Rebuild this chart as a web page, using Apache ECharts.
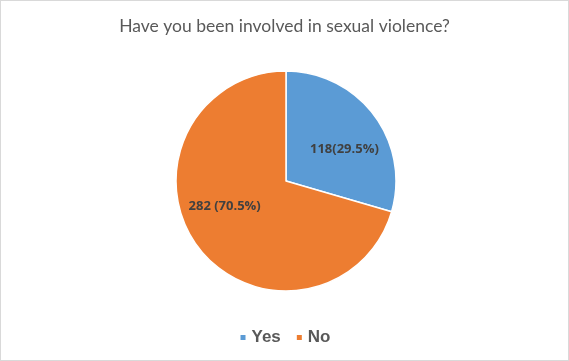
<!DOCTYPE html>
<html><head><meta charset="utf-8">
<script src="https://cdn.jsdelivr.net/npm/echarts@6/dist/echarts.min.js"></script>
<style>
html,body{margin:0;padding:0;background:#fff;}
#c{position:absolute;left:0;top:0;width:567px;height:359px;border:1px solid #d9d9d9;}
</style></head>
<body><div id="c"></div>
<script>
const titleText = 'Have you been involved in sexual violence?';
const categories = ['Yes', 'No'];
const values = [118, 282];
const colors = ['#5B9BD5', '#ED7D31'];
const labelFormats = ['{c}({d}%)', '{c} ({d}%)'];
const labelOffsets = [[12, 3], [-15, -10]];

const chart = echarts.init(document.getElementById('c'));
chart.setOption({
  animation: false,
  title: {
    text: titleText, left: 'center', top: 11,
    textStyle: {fontFamily: 'Lato', fontSize: 17.5, fontWeight: 'normal', color: '#595959'}
  },
  legend: {
    bottom: 9, left: 'center', itemWidth: 7, itemHeight: 7, itemGap: 14, icon: 'rect',
    data: categories,
    textStyle: {fontFamily: 'Liberation Sans', fontSize: 17, fontWeight: 'bold', color: '#595959'}
  },
  series: [{
    type: 'pie', center: [285, 180], radius: 110, startAngle: 90, clockwise: true,
    percentPrecision: 1,
    itemStyle: {borderColor: '#fff', borderWidth: 1.5},
    label: {position: 'inside', fontFamily: 'Open Sans', fontSize: 13, fontWeight: 'bold', color: '#404040'},
    labelLine: {show: false},
    data: categories.map((n, i) => ({
      name: n, value: values[i], itemStyle: {color: colors[i]},
      label: {formatter: labelFormats[i], offset: labelOffsets[i]}
    }))
  }]
});
</script></body></html>
